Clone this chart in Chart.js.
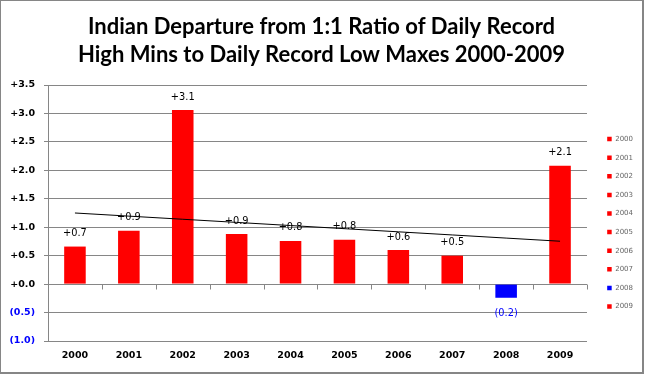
<!DOCTYPE html>
<html>
<head>
<meta charset="utf-8">
<script src="https://cdn.jsdelivr.net/npm/chart.js@4.4.1/dist/chart.umd.min.js"></script>
<style>
  html, body { margin: 0; padding: 0; background: #fff; }
  #wrap { width: 645px; height: 376px; }
</style>
</head>
<body>
<div id="wrap"><canvas id="c" width="645" height="376"></canvas></div>
<script>
// ---- data ----
const years = ['2000','2001','2002','2003','2004','2005','2006','2007','2008','2009'];
const departure = [0.66, 0.94, 3.06, 0.88, 0.76, 0.78, 0.60, 0.50, -0.24, 2.08];
const yTickValues = [3.5, 3.0, 2.5, 2.0, 1.5, 1.0, 0.5, 0.0, -0.5, -1.0];
const titleLines = ['Indian Departure from 1:1 Ratio of Daily Record', 'High Mins to Daily Record Low Maxes 2000-2009'];

// linear trend (least squares) computed from the departures
function trend(vals) {
  const n = vals.length;
  const mx = (n - 1) / 2;
  const my = vals.reduce((a, b) => a + b, 0) / n;
  let sxy = 0, sxx = 0;
  vals.forEach((v, i) => { sxy += (i - mx) * (v - my); sxx += (i - mx) * (i - mx); });
  const slope = sxy / sxx;
  return vals.map((v, i) => my + slope * (i - mx));
}
const trendValues = trend(departure);

const RED = '#ff0000', BLUE = '#0000ff', GRID = '#868686';
const barColors = departure.map(v => v < 0 ? BLUE : RED);

function fmt(v) {
  const a = Math.abs(v).toFixed(1);
  return v < 0 ? '(' + a + ')' : '+' + a;
}

const frame = {
  id: 'frame',
  beforeDraw(chart) {
    const ctx = chart.ctx;
    ctx.save();
    ctx.fillStyle = '#fff';
    ctx.fillRect(0, 0, chart.width, chart.height);
    ctx.restore();
  },
  afterDraw(chart) {
    const ctx = chart.ctx;
    ctx.save();
    ctx.strokeStyle = GRID;
    ctx.lineWidth = 1;
    ctx.strokeRect(0.5, 0.5, 643, 373);
    ctx.beginPath();
    ctx.moveTo(642.5, 1); ctx.lineTo(642.5, 373);
    ctx.moveTo(1, 372.5); ctx.lineTo(643, 372.5);
    ctx.stroke();
    ctx.restore();
  }
};

// category-boundary tick marks hanging below the zero line
const zeroTicks = {
  id: 'zeroTicks',
  afterDatasetsDraw(chart) {
    const xs = chart.scales.x, ys = chart.scales.y;
    const y0 = Math.round(ys.getPixelForValue(0)) + 0.5;
    const ctx = chart.ctx;
    ctx.save();
    ctx.strokeStyle = GRID;
    ctx.lineWidth = 1;
    ctx.beginPath();
    for (let i = 1; i <= years.length; i++) {
      const x = Math.round(xs.getPixelForValue(i - 0.5)) + 0.5;
      ctx.moveTo(x, y0);
      ctx.lineTo(x, y0 + 5);
    }
    ctx.stroke();
    ctx.restore();
  }
};

const valueLabels = {
  id: 'valueLabels',
  afterDraw(chart) {
    const meta = chart.getDatasetMeta(0);
    const ctx = chart.ctx;
    ctx.save();
    ctx.font = '9.8px "DejaVu Sans"';
    ctx.textAlign = 'center';
    ctx.textBaseline = 'middle';
    meta.data.forEach((el, i) => {
      const v = departure[i];
      if (v < 0) {
        ctx.fillStyle = BLUE;
        ctx.fillText(fmt(v), el.x, el.y + 16);
      } else {
        ctx.fillStyle = '#000';
        ctx.fillText(fmt(v), el.x, el.y - 13);
      }
    });
    ctx.restore();
  }
};

new Chart(document.getElementById('c'), {
  data: {
    labels: years,
    datasets: [
      {
        type: 'bar',
        label: 'Departure',
        data: departure,
        backgroundColor: barColors,
        borderWidth: 0,
        categoryPercentage: 1,
        barPercentage: 0.4,
        order: 2
      },
      {
        type: 'line',
        label: 'Trend',
        data: trendValues,
        borderColor: '#000',
        borderWidth: 1,
        pointRadius: 0,
        fill: false,
        tension: 0,
        order: 1
      }
    ]
  },
  plugins: [frame, zeroTicks, valueLabels],
  options: {
    responsive: false,
    animation: false,
    layout: { padding: { left: 0, right: 2, top: 0, bottom: 0 } },
    plugins: {
      tooltip: { enabled: false },
      title: {
        display: true,
        text: titleLines,
        color: '#000',
        font: { family: 'Lato', weight: 'bold', size: 22, lineHeight: '28px' },
        padding: { top: 13, bottom: 16 }
      },
      legend: {
        display: true,
        position: 'right',
        align: 'start',
        fullSize: false,
        title: { display: true, text: ' ', font: { size: 10 }, padding: { top: 27, bottom: 0 } },
        labels: {
          boxWidth: 4.5,
          boxHeight: 4.5,
          padding: 11.6,
          color: '#000',
          font: { family: 'DejaVu Sans', size: 7 },
          generateLabels: () => years.map((y, i) => ({
            text: y,
            fillStyle: barColors[i],
            strokeStyle: barColors[i],
            lineWidth: 0,
            hidden: false,
            index: i,
            datasetIndex: 0
          }))
        },
        onClick: () => {}
      }
    },
    scales: {
      x: {
        type: 'category',
        offset: true,
        grid: { display: false, drawTicks: false },
        border: { display: false },
        ticks: {
          color: '#000',
          padding: 9,
          font: { family: 'DejaVu Sans', weight: 'bold', size: 9.5 },
          maxRotation: 0
        },
        afterFit(s) { s.height = 35; }
      },
      y: {
        type: 'linear',
        position: 'left',
        min: -1,
        max: 3.5,
        afterBuildTicks(s) { s.ticks = yTickValues.map(v => ({ value: v })); },
        grid: { color: GRID, lineWidth: 1, drawTicks: true, tickLength: 4, tickColor: GRID },
        border: { display: true, color: GRID, width: 1 },
        ticks: {
          padding: 9,
          font: { family: 'DejaVu Sans', weight: 'bold', size: 9.5 },
          color: c => (c.tick && c.tick.value < 0) ? BLUE : '#000',
          callback: v => fmt(v)
        },
        afterFit(s) { s.width = 48; }
      },
      ySpacer: {
        type: 'linear',
        position: 'right',
        display: true,
        grid: { display: false, drawTicks: false },
        border: { display: false },
        ticks: { display: false },
        afterFit(s) { s.width = 8.6; }
      }
    }
  }
});
</script>
</body>
</html>
